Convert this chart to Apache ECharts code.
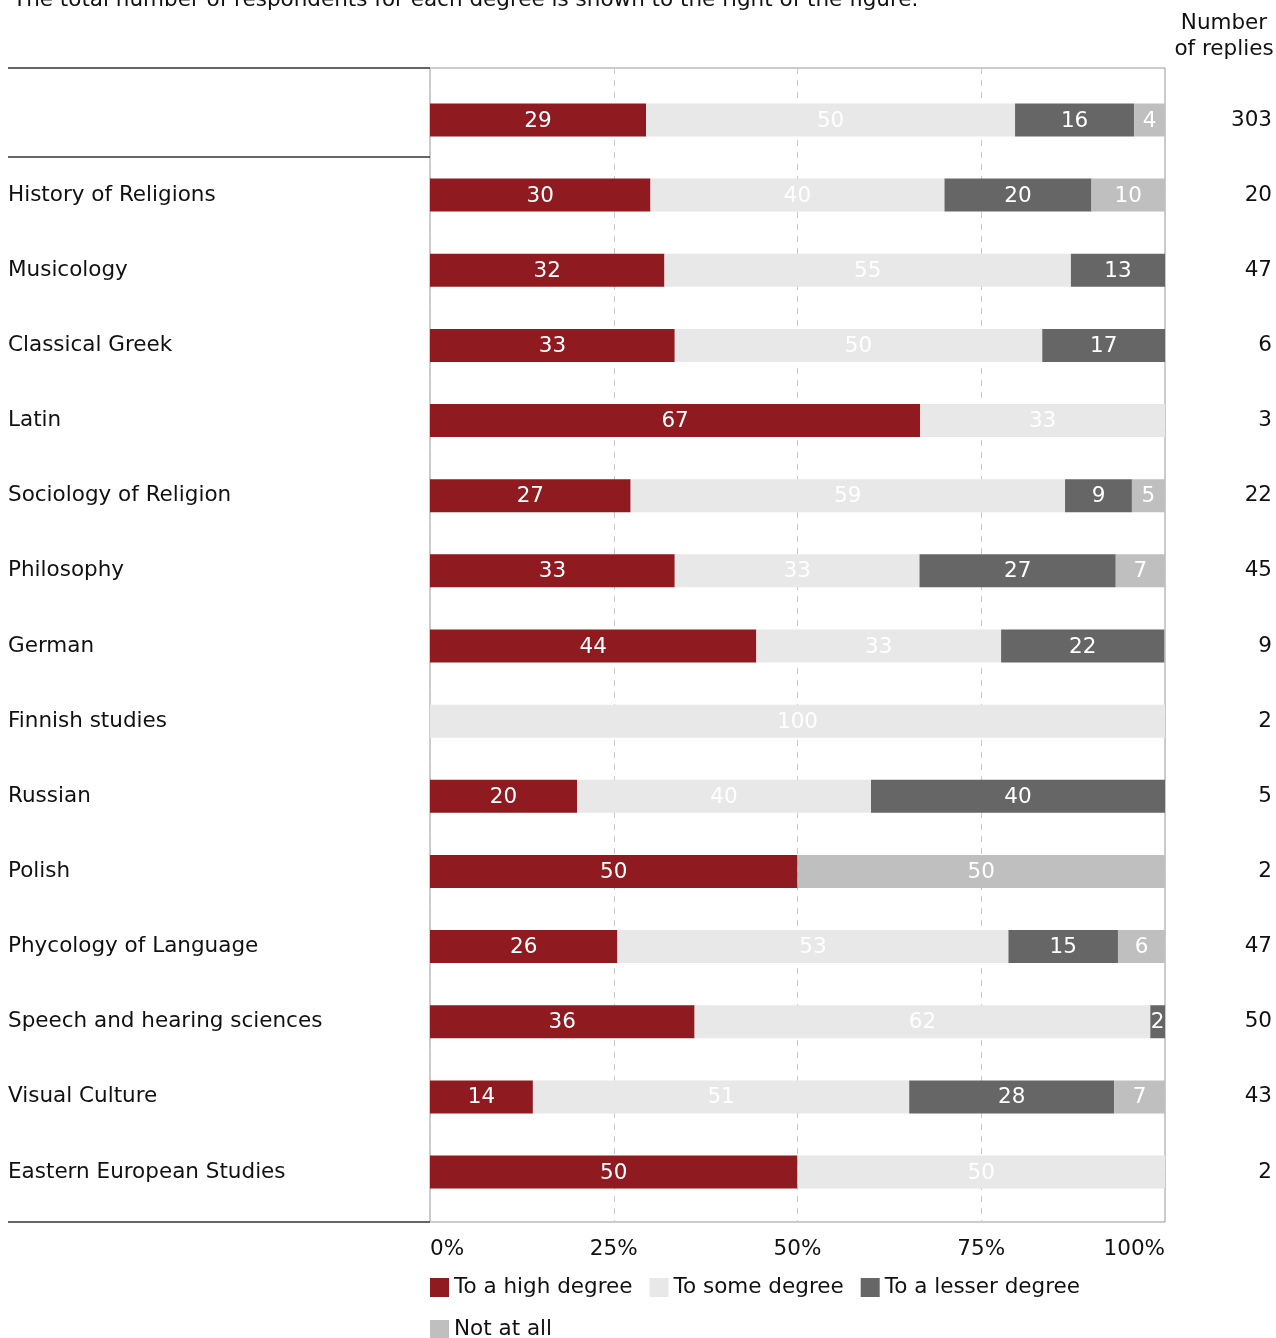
<!DOCTYPE html>
<html>
<head>
<meta charset="utf-8">
<script src="https://cdn.jsdelivr.net/npm/echarts@6/dist/echarts.min.js"></script>
<style>
html,body{margin:0;padding:0;background:#fff;}
#chart{width:1276px;height:1338px;}
</style>
</head>
<body>
<div id="chart"></div>
<script>
var categories = ['', 'History of Religions', 'Musicology', 'Classical Greek', 'Latin', 'Sociology of Religion', 'Philosophy', 'German', 'Finnish studies', 'Russian', 'Polish', 'Phycology of Language', 'Speech and hearing sciences', 'Visual Culture', 'Eastern European Studies'];
var replies = [303, 20, 47, 6, 3, 22, 45, 9, 2, 5, 2, 47, 50, 43, 2];
var highDegree   = [29.4, 30, 31.9, 33.3, 66.7, 27.3, 33.3, 44.4, 0, 20, 50, 25.5, 36, 14.0, 50];
var someDegree   = [50.2, 40, 55.3, 50.0, 33.3, 59.1, 33.3, 33.3, 100, 40, 0, 53.2, 62, 51.2, 50];
var lesserDegree = [16.2, 20, 12.8, 16.7, 0, 9.1, 26.7, 22.2, 0, 40, 0, 14.9, 2, 27.9, 0];
var notAtAll     = [4.2, 10, 0, 0, 0, 4.5, 6.7, 0, 0, 0, 50, 6.4, 0, 7.0, 0];
var xTicks = [0, 25, 50, 75, 100];
var seriesNames = ['To a high degree', 'To some degree', 'To a lesser degree', 'Not at all'];
var seriesColors = ['#8f1a1f', '#e8e8e8', '#666666', '#bfbfbf'];

var FONT = '"DejaVu Sans", Verdana, sans-serif';
var FS = 21.5;
var chart = echarts.init(document.getElementById('chart'));

function mkSeries(name, data, color) {
  return {
    name: name, type: 'bar', stack: 'total',
    xAxisIndex: 1, yAxisIndex: 1,
    barWidth: 33,
    itemStyle: {color: color},
    label: {
      show: true, position: 'inside', color: '#ffffff',
      fontFamily: FONT, fontSize: FS, offset: [0, 1],
      formatter: function (p) { return p.value > 0 ? String(Math.round(p.value)) : ''; }
    },
    emphasis: {disabled: true},
    data: data
  };
}

var option = {
  animation: false,
  backgroundColor: '#ffffff',
  textStyle: {fontFamily: FONT},
  title: {
    text: 'The total number of respondents for each degree is shown to the right of the figure.',
    left: 8, top: -16,
    textStyle: {fontFamily: FONT, fontSize: FS, fontWeight: 'normal', color: '#111'}
  },
  graphic: [
    {type: 'text', x: 1224, y: 10, style: {text: 'Number\nof replies', textAlign: 'center', fontFamily: FONT, fontSize: FS, lineHeight: 26, fill: '#111'}},
    {type: 'line', shape: {x1: 8, y1: 68, x2: 430, y2: 68}, style: {stroke: '#333', lineWidth: 1.5}},
    {type: 'line', shape: {x1: 8, y1: 157, x2: 430, y2: 157}, style: {stroke: '#333', lineWidth: 1.5}},
    {type: 'line', shape: {x1: 8, y1: 1222, x2: 430, y2: 1222}, style: {stroke: '#333', lineWidth: 1.5}}
  ],
  legend: {
    data: seriesNames,
    left: 425, top: 1270, width: 700,
    icon: 'rect', itemWidth: 19, itemHeight: 19, itemGap: 17,
    textStyle: {fontFamily: FONT, fontSize: FS, color: '#111', lineHeight: 25}
  },
  grid: [
    {left: 430, width: 735, top: 68, height: 1154, show: true, borderColor: '#999', borderWidth: 1, backgroundColor: 'transparent'},
    {left: 430, width: 735, top: 82.4, height: 1127.2}
  ],
  xAxis: [
    {
      gridIndex: 0, type: 'value', min: 0, max: 100, interval: 25,
      axisLine: {show: false}, axisTick: {show: false},
      splitLine: {show: true, lineStyle: {color: '#c8c8c8', type: [6, 6], width: 1}},
      axisLabel: {
        formatter: '{value}%', margin: 16, color: '#111', fontFamily: FONT, fontSize: FS,
        alignMinLabel: 'left', alignMaxLabel: 'right'
      }
    },
    {gridIndex: 1, type: 'value', min: 0, max: 100, show: false}
  ],
  yAxis: [
    {gridIndex: 0, type: 'value', show: false, min: 0, max: 1},
    {
      gridIndex: 1, type: 'category', data: categories, inverse: true,
      axisLine: {show: false}, axisTick: {show: false}, splitLine: {show: false},
      axisLabel: {align: 'left', margin: 422, color: '#111', fontFamily: FONT, fontSize: FS, padding: [4, 0, 0, 0]}
    },
    {
      gridIndex: 1, type: 'category', data: replies, inverse: true, position: 'right',
      axisLine: {show: false}, axisTick: {show: false}, splitLine: {show: false},
      axisLabel: {align: 'right', margin: 107, color: '#111', fontFamily: FONT, fontSize: FS, padding: [4, 0, 0, 0]}
    }
  ],
  series: [
    mkSeries(seriesNames[0], highDegree, seriesColors[0]),
    mkSeries(seriesNames[1], someDegree, seriesColors[1]),
    mkSeries(seriesNames[2], lesserDegree, seriesColors[2]),
    mkSeries(seriesNames[3], notAtAll, seriesColors[3])
  ]
};
chart.setOption(option);
</script>
</body>
</html>
